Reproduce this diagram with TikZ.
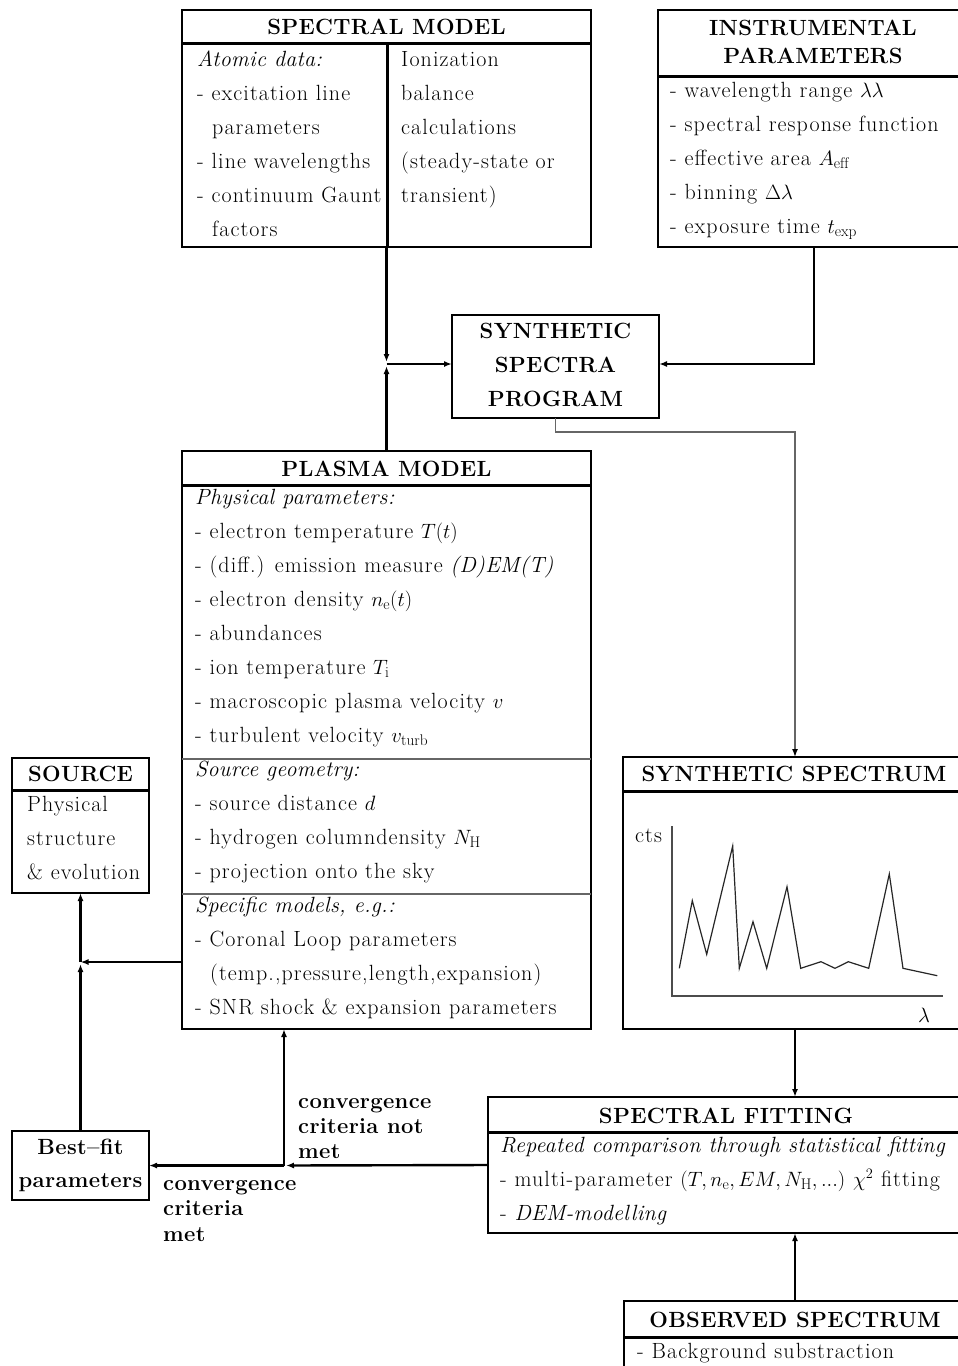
\documentclass[tikz,border=0pt]{standalone}
\usepackage{fontspec}
\setmainfont{Latin Modern Roman}[LetterSpace=5]
\newfontfamily\hdrfont{Latin Modern Roman}[LetterSpace=1.5]
\newfontfamily\itfont{Latin Modern Roman}[LetterSpace=1.5]
\newcommand{\myit}[1]{{\itfont\itshape #1}}
\usetikzlibrary{arrows.meta}
\begin{document}
\begin{tikzpicture}[x=1pt,y=-1pt,
  every node/.style={font=\fontsize{22}{34}\selectfont, inner sep=0pt},
  box/.style={draw, line width=2.8pt, anchor=north west, inner sep=0pt, outer sep=0pt},
  hdr/.style={font=\fontsize{22}{34}\selectfont\hdrfont\bfseries, anchor=base},
  lbl/.style={font=\fontsize{22}{34}\selectfont\hdrfont\bfseries, anchor=base west},
  txt/.style={anchor=base west},
  sepline/.style={line width=3pt},
  thinsep/.style={line width=1.3pt, draw=black!60},
  conn/.style={line width=2.4pt, -{Latex[length=8pt,width=6pt]}},
  gconn/.style={line width=1.4pt, draw=black!60, -{Latex[length=8pt,width=6pt,color=black]}},
  plotline/.style={line width=1.2pt, draw=black!85},
  axisline/.style={line width=1.3pt, draw=black!70}]
\useasboundingbox (0,0) rectangle (958,1366);
\clip (0,0) rectangle (958,1366);
\fill[white] (0,0) rectangle (958,1366);

% ---------- boxes ----------
\node[box, minimum width=409pt, minimum height=237pt] (sm) at (182,10) {};
\node[box, minimum width=312pt, minimum height=237pt] (ip) at (658,10) {};
\node[box, minimum width=207pt, minimum height=103pt] (ssp) at (452,315) {};
\node[box, minimum width=409pt, minimum height=578pt] (pm) at (182,451) {};
\node[box, minimum width=137pt, minimum height=135pt] (src) at (12,758) {};
\node[box, minimum width=344pt, minimum height=272pt] (ss) at (623,757) {};
\node[box, minimum width=137pt, minimum height=69pt] (bf) at (12,1131) {};
\node[box, minimum width=476pt, minimum height=136pt] (sf) at (488,1097) {};
\node[box, minimum width=342pt, minimum height=100pt] (os) at (624,1301) {};

% ---------- header separators ----------
\draw[sepline] (182,43) -- (591,43);
\draw[sepline] (387,43) -- (387,247);
\draw[sepline] (658,76) -- (970,76);
\draw[sepline] (182,485) -- (591,485);
\draw[thinsep] (182,759) -- (591,759);
\draw[thinsep] (182,894) -- (591,894);
\draw[sepline] (12,790) -- (149,790);
\draw[sepline] (623,791) -- (970,791);
\draw[sepline] (488,1132) -- (970,1132);
\draw[sepline] (624,1337) -- (970,1337);

% ---------- SPECTRAL MODEL ----------
\node[hdr] (smt) at (386.5,34) {SPECTRAL MODEL};
\node[txt] (sm0) at (197,66) {\myit{Atomic data:}};
\node[txt] (sm1) at (197,100) {- excitation line};
\node[txt] (sm2) at (212,134) {parameters};
\node[txt] (sm3) at (197,168) {- line wavelengths};
\node[txt] (sm4) at (197,202) {- continuum Gaunt};
\node[txt] (sm5) at (212,236) {factors};
\node[txt] (smr0) at (401,66) {Ionization};
\node[txt] (smr1) at (401,100) {balance};
\node[txt] (smr2) at (401,134) {calculations};
\node[txt] (smr3) at (401,168) {(steady-state or};
\node[txt] (smr4) at (401,202) {transient)};

% ---------- INSTRUMENTAL PARAMETERS ----------
\node[hdr] (ipt1) at (813,35) {INSTRUMENTAL};
\node[hdr] (ipt2) at (813,63) {PARAMETERS};
\node[txt] (ip0) at (670,97) {- wavelength range $\lambda\lambda$};
\node[txt] (ip1) at (670,131) {- spectral response function};
\node[txt] (ip2) at (670,165) {- effective area $A_{\rm eff}$};
\node[txt] (ip3) at (670,199) {- binning $\Delta\lambda$};
\node[txt] (ip4) at (670,233) {- exposure time $t_{\rm exp}$};

% ---------- SYNTHETIC SPECTRA PROGRAM ----------
\node[hdr] (sspt1) at (555.5,338) {SYNTHETIC};
\node[hdr] (sspt2) at (555.5,372) {SPECTRA};
\node[hdr] (sspt3) at (555.5,406) {PROGRAM};

% ---------- PLASMA MODEL ----------
\node[hdr] (pmt) at (386.5,476) {PLASMA MODEL};
\foreach \t [count=\i from 0] in {
  {\myit{Physical parameters:}},
  {- electron temperature $T(t)$},
  {- (diff.) emission measure \myit{(D)EM(T)}},
  {- electron density $n_{\rm e}(t)$},
  {- abundances},
  {- ion temperature $T_{\rm i}$},
  {- macroscopic plasma velocity $v$},
  {- turbulent velocity $v_{\rm turb}$},
  {\myit{Source geometry:}},
  {- source distance $d$},
  {- hydrogen columndensity $N_{\rm H}$},
  {- projection onto the sky},
  {\myit{Specific models, e.g.:}},
  {- Coronal Loop parameters},
  {\hspace*{15pt}(temp.,pressure,length,expansion)},
  {- SNR shock \& expansion parameters}}
  \node[txt] (pm\i) at (195,504+34*\i) {\t};

% ---------- SOURCE ----------
\node[hdr] (srct) at (80.5,781) {SOURCE};
\node[txt] (src0) at (27,811) {Physical};
\node[txt] (src1) at (27,845) {structure};
\node[txt] (src2) at (27,879) {\& evolution};

% ---------- SYNTHETIC SPECTRUM ----------
\node[hdr] (sst) at (794,781) {SYNTHETIC SPECTRUM};
\draw[axisline] (672,826) -- (672,996) -- (943,996);
\node[txt] (cts) at (635,842) {cts};
\node[txt] (lam) at (918,1022) {$\lambda$};
\draw[plotline, line join=miter] (679.3,968.3) -- (692.3,900.7) -- (706.7,954.3) -- (732.7,846)
  -- (739.3,968.3) -- (753,921.7) -- (766.7,968.3) -- (787,886.7) -- (800.7,968.3)
  -- (821,961.7) -- (835,968.3) -- (848.3,961.7) -- (868.7,968.3) -- (889.3,874)
  -- (903,968.3) -- (937.3,975.7);

% ---------- SPECTRAL FITTING ----------
\node[hdr] (sft) at (726,1123) {SPECTRAL FITTING};
\node[txt] (sf0) at (500,1152) {\myit{Repeated comparison through statistical fitting}};
\node[txt] (sf1) at (500,1186) {- multi-parameter $(T, n_{\rm e}, EM, N_{\rm H}, ...)$ $\chi^2$ fitting};
\node[txt] (sf2) at (500,1220) {- \myit{DEM-modelling}};

% ---------- OBSERVED SPECTRUM ----------
\node[hdr] (ost) at (795,1327) {OBSERVED SPECTRUM};
\node[txt] (os0) at (637,1358) {- Background substraction};

% ---------- Best-fit ----------
\node[hdr] (bft1) at (80.5,1154) {Best–fit};
\node[hdr] (bft2) at (80.5,1187) {parameters};

% ---------- labels ----------
\node[lbl] (ln1) at (298,1108) {convergence};
\node[lbl] (ln2) at (298,1133) {criteria not};
\node[lbl] (ln3) at (298,1158) {met};
\node[lbl] (lm1) at (163,1190) {convergence};
\node[lbl] (lm2) at (163,1215) {criteria};
\node[lbl] (lm3) at (163,1241) {met};

% ---------- connectors ----------
\coordinate (J1) at (386.5,364);
\coordinate (J2) at (80.5,962);
\coordinate (J3) at (284,1165.5);
\draw[conn, shorten >=2pt] (sm.south) -- (J1);
\draw[conn, shorten >=2pt] (pm.north) -- (J1);
\draw[conn] (J1) -- (J1 -| ssp.west);
\draw[conn] (ip.south) |- (J1 -| ssp.east);
\draw[gconn] (ssp.south) -- ++(0,14) -| (ss.north);
\draw[conn] (J2 -| pm.west) -- (J2);
\draw[conn, shorten >=2pt] (bf.north) -- (J2);
\draw[conn] (J2) -- (src.south);
\draw[conn] (ss.south) -- (ss.south |- sf.north);
\draw[conn] (os.north) -- (os.north |- sf.south);
\draw[conn, shorten >=2pt] (sf.west) -- (J3);
\draw[conn] (J3) -- (bf.east);
\draw[conn] (J3) -- (J3 |- pm.south);
\end{tikzpicture}
\end{document}
